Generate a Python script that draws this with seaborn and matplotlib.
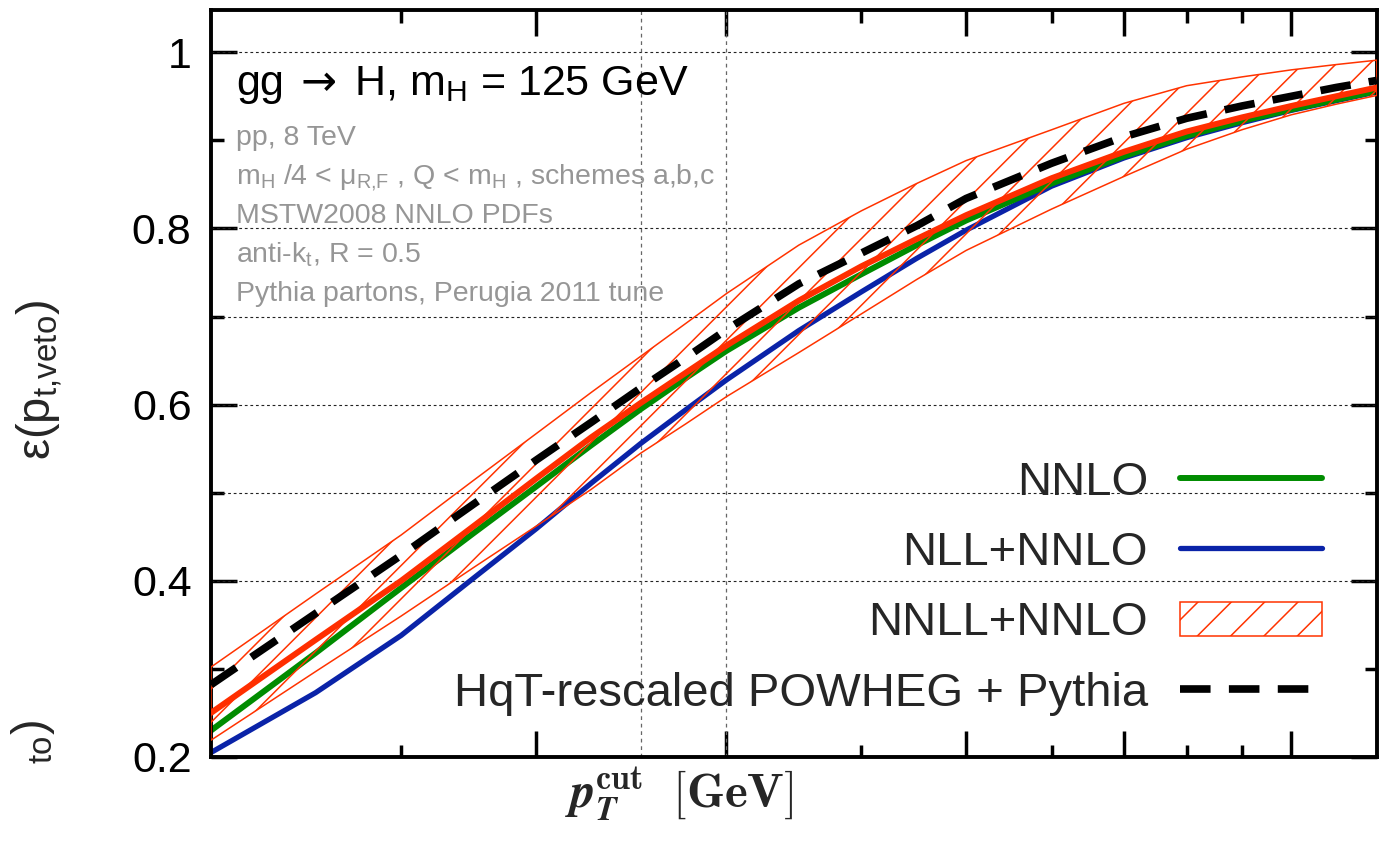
import matplotlib
matplotlib.use("Agg")
import numpy as np
import pandas as pd
import matplotlib.pyplot as plt
import seaborn as sns
from matplotlib.ticker import FixedLocator, NullFormatter, FixedFormatter
from matplotlib.font_manager import FontProperties
from matplotlib.mathtext import MathTextParser

# ---------------- data ----------------
pt_gev = [10, 12.5, 15, 17.5, 20, 22.5, 25, 27.5, 30, 35, 40, 45, 50, 60, 70, 80, 90, 100, 110, 120]
nnlo = [0.230, 0.318, 0.392, 0.454, 0.507, 0.554, 0.595, 0.630, 0.661, 0.710, 0.748, 0.781, 0.809,
        0.851, 0.882, 0.905, 0.922, 0.935, 0.946, 0.956]
nll_nnlo = [0.205, 0.273, 0.338, 0.403, 0.459, 0.511, 0.556, 0.594, 0.628, 0.684, 0.728, 0.766, 0.798,
            0.848, 0.880, 0.903, 0.920, 0.934, 0.945, 0.955]
nnll_central = [0.250, 0.333, 0.400, 0.462, 0.516, 0.563, 0.602, 0.636, 0.667, 0.718, 0.757, 0.788, 0.815,
                0.857, 0.887, 0.910, 0.926, 0.939, 0.950, 0.960]
nnll_low = [0.219, 0.297, 0.360, 0.415, 0.462, 0.504, 0.545, 0.578, 0.609, 0.659, 0.703, 0.742, 0.775,
            0.822, 0.859, 0.890, 0.912, 0.929, 0.941, 0.951]
nnll_high = [0.302, 0.385, 0.452, 0.514, 0.567, 0.614, 0.655, 0.692, 0.726, 0.781, 0.820, 0.851, 0.877,
             0.912, 0.942, 0.962, 0.972, 0.980, 0.986, 0.991]
powheg = [0.282, 0.363, 0.429, 0.487, 0.537, 0.580, 0.619, 0.653, 0.685, 0.737, 0.772, 0.803, 0.834,
          0.874, 0.904, 0.925, 0.939, 0.950, 0.960, 0.968]

x_major = [20, 30, 50, 70, 100]
x_minor = [15, 40, 60, 80, 90]
x_grid = [25, 30]
y_major = [0.2, 0.4, 0.6, 0.8, 1.0]
y_minor = [0.3, 0.5, 0.7, 0.9]
y_grid = [0.4, 0.5, 0.6, 0.7, 0.8, 1.0]
y_labels = ["0.2", "0.4", "0.6", "0.8", "1"]

legend_labels = ["NNLO", "NLL+NNLO", "NNLL+NNLO", "HqT-rescaled POWHEG + Pythia"]
info_lines = [
    "pp, 8 TeV",
    r"m$_\mathregular{H}$ /4 < μ$_\mathregular{R{,}F}$ , Q < m$_\mathregular{H}$ , schemes a,b,c",
    "MSTW2008 NNLO PDFs",
    r"anti-k$_\mathregular{t}$, R = 0.5",
    "Pythia partons, Perugia 2011 tune",
]
title_text = r"gg$\;\mathsf{\rightarrow}\;$H, m$_\mathregular{H}$ = 125 GeV"

GREEN = "#008c00"
BLUE = "#0a23a8"
RED = "#ff2e00"
RED_EDGE = "#ff3300"
GRAY = "#969696"

# ---------------- style ----------------
sns.set_theme(style="white")
plt.rcParams["font.family"] = ["Liberation Sans", "DejaVu Sans"]
plt.rcParams["mathtext.fontset"] = "custom"
plt.rcParams["mathtext.rm"] = "Liberation Sans"
plt.rcParams["mathtext.it"] = "Liberation Sans:italic"
plt.rcParams["mathtext.bf"] = "Liberation Sans:bold"
plt.rcParams["mathtext.sf"] = "DejaVu Sans"
plt.rcParams["mathtext.default"] = "regular"
plt.rcParams["hatch.linewidth"] = 1.1
plt.rcParams["axes.axisbelow"] = True

df = pd.DataFrame({
    "pt": pt_gev, "nnlo": nnlo, "nll": nll_nnlo, "central": nnll_central,
    "low": nnll_low, "high": nnll_high, "powheg": powheg,
})

fig = plt.figure(figsize=(13.97, 8.51), dpi=100)
ax = fig.add_axes([0.151, 0.1105, 0.8346, 0.8778])
ax.set_facecolor("white")

# grid
ax.grid(False)
for v in y_grid:
    ax.axhline(v, linestyle=(0, (2.5, 2.5)), linewidth=0.8, color="#222222", zorder=1)
for v in x_grid:
    ax.axvline(v, linestyle=(0, (3, 3)), linewidth=0.9, color="#666666", zorder=1)

# band
band = ax.fill_between(df["pt"], df["low"], df["high"], facecolor="none", edgecolor=RED_EDGE,
                       hatch="/", linewidth=1.1, zorder=3)

sns.lineplot(data=df, x="pt", y="nll", color=BLUE, lw=3.8, ax=ax, zorder=2)
l_nll = ax.lines[-1]
sns.lineplot(data=df, x="pt", y="nnlo", color=GREEN, lw=4.3, ax=ax, zorder=2.5)
l_nnlo = ax.lines[-1]
sns.lineplot(data=df, x="pt", y="central", color=RED, lw=4.3, ax=ax, zorder=4)
sns.lineplot(data=df, x="pt", y="powheg", color="black", lw=5.5, linestyle=(0, (4.0, 2.4)), ax=ax, zorder=5)
l_pow = ax.lines[-1]

ax.set_xscale("log")
ax.set_xlim(10, 120)
ax.set_ylim(0.2, 1.048)

ax.xaxis.set_major_locator(FixedLocator(x_major))
ax.xaxis.set_minor_locator(FixedLocator(x_minor))
ax.xaxis.set_major_formatter(NullFormatter())
ax.xaxis.set_minor_formatter(NullFormatter())
ax.yaxis.set_major_locator(FixedLocator(y_major))
ax.yaxis.set_major_formatter(FixedFormatter(y_labels))
ax.yaxis.set_minor_locator(FixedLocator(y_minor))
ax.yaxis.set_minor_formatter(NullFormatter())

ax.tick_params(which="major", direction="in", length=19, width=2.5, top=True, right=True,
               bottom=True, left=True, labelsize=31, pad=14, color="black", labelcolor="black")
ax.tick_params(which="minor", direction="in", length=9, width=2.5, top=True, right=True,
               bottom=True, left=True, color="black")
for s in ax.spines.values():
    s.set_linewidth(2.8)
    s.set_color("black")
    s.set_visible(True)

# labels
def _ok(s, mf):
    try:
        MathTextParser("path").parse(s, prop=FontProperties(math_fontfamily=mf, size=28))
        return True
    except Exception:
        return False

if not _ok(title_text, "custom"):
    title_text = "gg → H, m$_\\mathregular{H}$ = 125 GeV"

xl_candidates = [
    (r"$\mathbfit{p}_{\mathbfit{T}}^{\mathbf{cut}}\ \ \mathbf{[GeV]}$", "cm"),
    (r"$\mathbfit{p}_{\mathbfit{T}}^{\mathbf{cut}}\ \ \mathbf{[GeV]}$", "stix"),
    (r"$p_{T}^{\mathrm{cut}}\ \ \mathbf{[GeV]}$", "cm"),
]
xl_text, xl_mf = xl_candidates[-1]
for s, mf in xl_candidates:
    if _ok(s, mf):
        xl_text, xl_mf = s, mf
        break
ax.set_xlabel(xl_text, fontsize=35, math_fontfamily=xl_mf)
ax.xaxis.set_label_coords(0.402, -0.051)
ax.xaxis.label.set_va("center")

ax.set_ylabel(r"ε(p$_\mathregular{t{,}veto}$)", fontsize=34)
ax.yaxis.set_label_coords(-0.147, 0.505)
ax.yaxis.label.set_va("center")

fig.text(33 / 1397, 1 - 742 / 851, r"$_\mathregular{to}$)", rotation=90, fontsize=34,
         ha="center", va="center")

ax.text(0.0214, 0.886, title_text, transform=ax.transAxes, fontsize=31, va="baseline", color="black")
for i, line in enumerate(info_lines):
    ax.text(0.0214, 0.819 - i * 0.0522, line, transform=ax.transAxes, fontsize=20.5,
            va="baseline", color=GRAY)

leg = ax.legend([l_nnlo, l_nll, band, l_pow], legend_labels, loc="lower right",
                bbox_to_anchor=(0.9528, 0.055), frameon=False, markerfirst=False, fontsize=34,
                handlelength=3.0, handletextpad=0.68, labelspacing=0.56, borderpad=0,
                borderaxespad=0, handleheight=0.75)

fig.savefig("out.png", dpi=100, facecolor="white")
